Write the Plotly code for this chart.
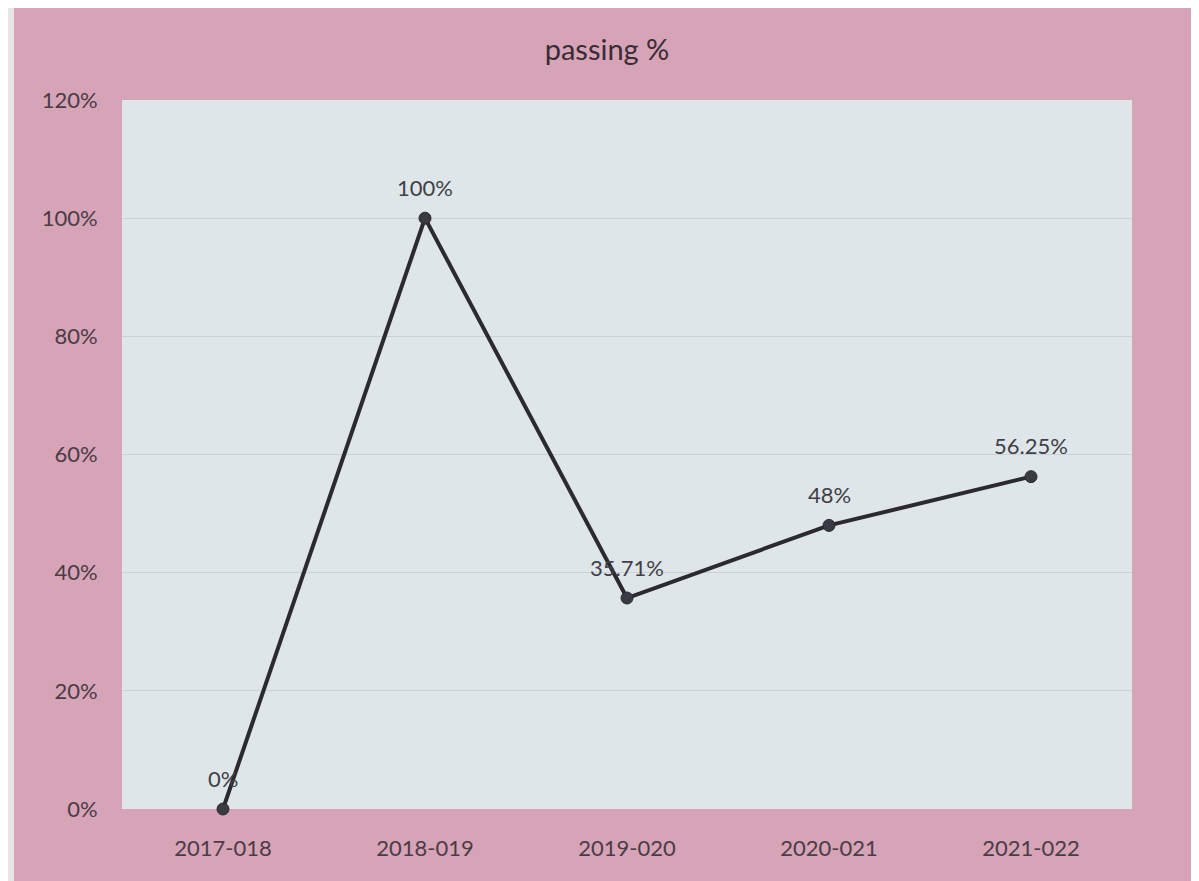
import plotly.graph_objects as go

years = ["2017-018", "2018-019", "2019-020", "2020-021", "2021-022"]
passing = [0.0, 1.0, 0.3571, 0.48, 0.5625]
point_labels = ["0%", "100%", "35.71%", "48%", "56.25%"]

FONT = "Lato"
TXT = "#4a3c45"

fig = go.Figure()
fig.add_trace(go.Scatter(
    x=years, y=passing, mode="lines+markers", cliponaxis=False,
    line=dict(color="#2b2a30", width=4),
    marker=dict(color="#3a3a42", size=12, line=dict(color="#2b2a30", width=1)),
    hoverinfo="skip", showlegend=False,
))

for x, y, t in zip(years, passing, point_labels):
    fig.add_annotation(x=x, y=y, text=t, showarrow=False, yshift=31,
                       font=dict(family=FONT, size=22, color="#3f3f45"))

# light page edge on the left of the pink frame
fig.add_shape(type="rect", xref="paper", yref="paper",
              x0=(0 - 114) / 1010, x1=(6 - 114) / 1010, y0=-0.2, y1=1.3,
              fillcolor="#e8e4e6", line_width=0, layer="below")

fig.update_layout(
    width=1199, height=881,
    margin=dict(l=114, r=75, t=92, b=80),
    paper_bgcolor="#d6a3b7",
    plot_bgcolor="#dfe6ea",
    title=dict(text="passing %", x=599 / 1199, xref="container", y=1 - 42 / 881,
               yref="container", xanchor="center", yanchor="middle",
               font=dict(family=FONT, size=29, color="#3a2c36")),
    font=dict(family=FONT, size=22, color=TXT),
)
fig.update_xaxes(range=[-0.5, 4.5], showgrid=False, zeroline=False, showline=False,
                 ticks="outside", ticklen=20, tickcolor="rgba(0,0,0,0)",
                 tickfont=dict(family=FONT, size=22, color=TXT))
fig.update_yaxes(range=[0, 1.2], dtick=0.2, tickformat=".0%",
                 showgrid=True, gridcolor="#cbd1d6", gridwidth=1,
                 zeroline=False, showline=False,
                 ticks="outside", ticklen=19, tickcolor="rgba(0,0,0,0)",
                 tickfont=dict(family=FONT, size=22, color=TXT))

fig.write_html("out.html")
